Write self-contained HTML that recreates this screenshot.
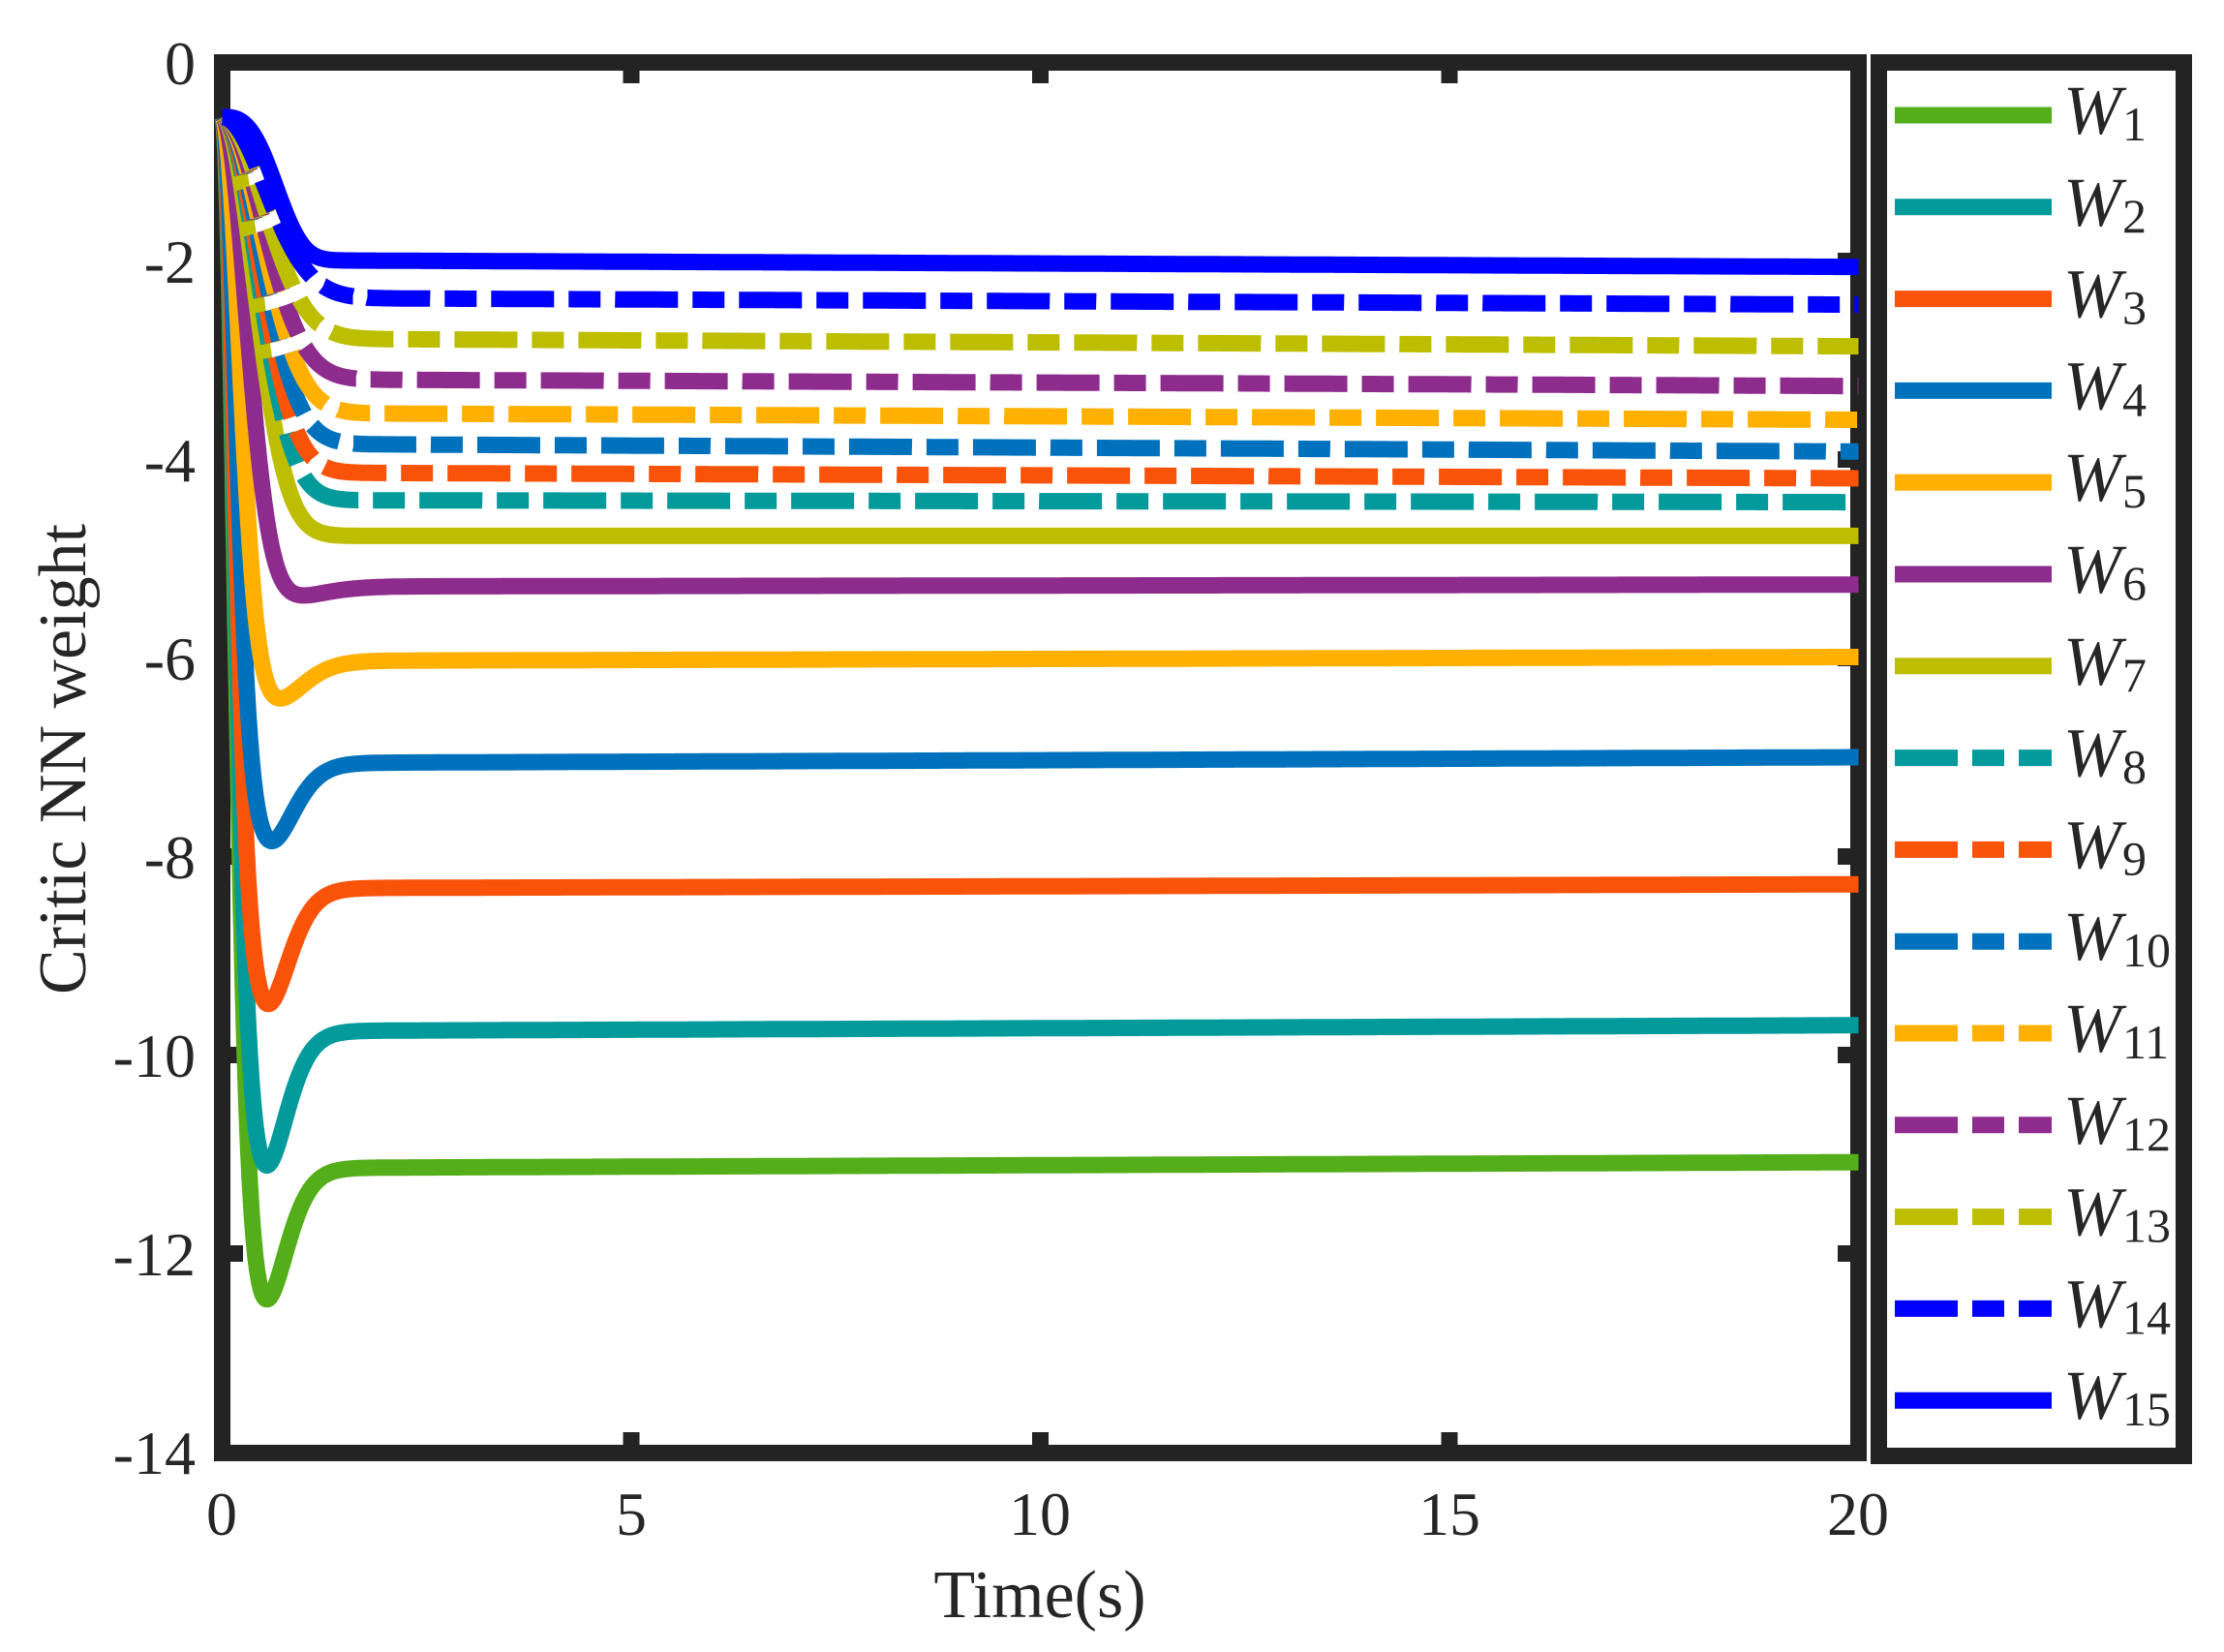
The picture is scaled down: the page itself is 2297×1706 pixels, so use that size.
<!DOCTYPE html>
<html><head><meta charset="utf-8"><style>
html,body{margin:0;padding:0;background:#fff;}
svg{display:block;}
text{font-family:"Liberation Serif",serif;fill:#262626;}
</style></head><body>
<svg id="s" width="2297" height="1706" viewBox="0 0 2297 1706" xmlns="http://www.w3.org/2000/svg">
<g id="frame" fill="#232323">
<rect x="221" y="56" width="1707" height="17"/>
<rect x="221" y="1492" width="1707" height="17"/>
<rect x="221" y="56" width="17" height="1453"/>
<rect x="1911" y="56" width="17" height="1453"/>
</g>
<g id="ticks" fill="#232323"></g>
<g id="lines" fill="none" stroke-width="17" stroke-linecap="butt" stroke-linejoin="round"></g>
<g font-size="64">
<text x="202" y="87" text-anchor="end">0</text>
<text x="202" y="292" text-anchor="end">-2</text>
<text x="202" y="497" text-anchor="end">-4</text>
<text x="202" y="702" text-anchor="end">-6</text>
<text x="202" y="907" text-anchor="end">-8</text>
<text x="202" y="1112" text-anchor="end">-10</text>
<text x="202" y="1317" text-anchor="end">-12</text>
<text x="202" y="1522" text-anchor="end">-14</text>
<text x="229" y="1585" text-anchor="middle">0</text>
<text x="652" y="1585" text-anchor="middle">5</text>
<text x="1074" y="1585" text-anchor="middle">10</text>
<text x="1497" y="1585" text-anchor="middle">15</text>
<text x="1919" y="1585" text-anchor="middle">20</text>
</g>
<text x="1074" y="1670" font-size="70" text-anchor="middle">Time(s)</text>
<text transform="translate(88,784) rotate(-90)" font-size="70" text-anchor="middle">Critic NN weight</text>
<g fill="#232323">
<rect x="1932" y="56" width="332" height="17"/>
<rect x="1932" y="1495" width="332" height="17"/>
<rect x="1932" y="56" width="17" height="1456"/>
<rect x="2247" y="56" width="17" height="1456"/>
</g>
<g id="legend"></g>
</svg>
<script>
var C=["#53AE1A","#029A9A","#F9530A","#0072BD","#FFB000","#8E2C8E","#BDBE00","#029A9A","#F9530A","#0072BD","#FFB000","#8E2C8E","#BDBE00","#0000FF","#0000FF"];
// [final@2, final@20, min, tmin, tau]
var P=[
[-11.14,-11.08,-12.47,0.54,0.2],
[-9.76,-9.70,-11.12,0.54,0.2],
[-8.32,-8.28,-9.49,0.56,0.2],
[-7.06,-7.00,-7.85,0.6,0.22],
[-6.03,-5.99,-6.42,0.68,0.28],
[-5.28,-5.26,-5.39,0.84,0.4],
[-4.77,-4.77,null,0,0.55],
[-4.41,-4.43,null,0,0.6],
[-4.13,-4.19,null,0,0.62],
[-3.84,-3.92,null,0,0.65],
[-3.53,-3.60,null,0,0.68],
[-3.19,-3.26,null,0,0.7],
[-2.78,-2.86,null,0,0.72],
[-2.37,-2.44,null,0,0.75],
[-1.99,-2.06,null,0,0.75]
];
function X(t){return 229.5+t*84.5;}
function Y(v){return 64.5-v*102.5;}
var ns="http://www.w3.org/2000/svg";
var g=document.getElementById("lines");
for(var i=0;i<15;i++){
 var p=P[i],w0=-0.55,d="";
 for(var k=0;k<=800;k++){
  var t=k<400?k*0.005:2+(k-400)*0.045;
  var f=p[0]+(p[1]-p[0])*t/20;
  var pw=(i==14)?3:2;
  var s=1-Math.exp(-Math.pow(t/p[4],pw));
  var v=w0+(f-w0)*s;
  if(p[2]!==null){
   var r=t/p[3];var b=Math.pow(r*Math.exp(1-r),6);
   v+= (p[2]-p[0])*b;
  }
  d+=(k?"L":"M")+X(t).toFixed(1)+" "+Y(v).toFixed(1);
 }
 var e=document.createElementNS(ns,"path");
 e.setAttribute("d",d);e.setAttribute("stroke",C[i]);
 if(i>=7&&i<=13)e.setAttribute("stroke-dasharray","65 15 33 15");
 g.appendChild(e);
}
var tk=document.getElementById("ticks"),h="";
[5,10,15].forEach(function(t){var x=X(t)-8.5;h+='<rect x="'+x+'" y="64" width="17" height="22"/><rect x="'+x+'" y="1479" width="17" height="22"/>';});
for(var v=-2;v>=-12;v-=2){var y=Y(v)-8.5;h+='<rect x="229" y="'+y+'" width="22" height="17"/><rect x="1898" y="'+y+'" width="22" height="17"/>';}
tk.innerHTML=h;
var L=document.getElementById("legend"),s2="";
for(var i=0;i<15;i++){
 var y=119+i*94.8;
 s2+='<line x1="1957" x2="2119" y1="'+y+'" y2="'+y+'" stroke="'+C[i]+'" stroke-width="17"'+((i>=7&&i<=13)?' stroke-dasharray="65 15 33 15"':'')+'/>';
 s2+='<text x="2131" y="'+(y+19)+'" font-size="72" font-style="italic" fill="#000">W</text>';
 s2+='<text x="2192" y="'+(y+26)+'" font-size="50" fill="#000">'+(i+1)+'</text>';
}
L.innerHTML=s2;
</script>
</body></html>
